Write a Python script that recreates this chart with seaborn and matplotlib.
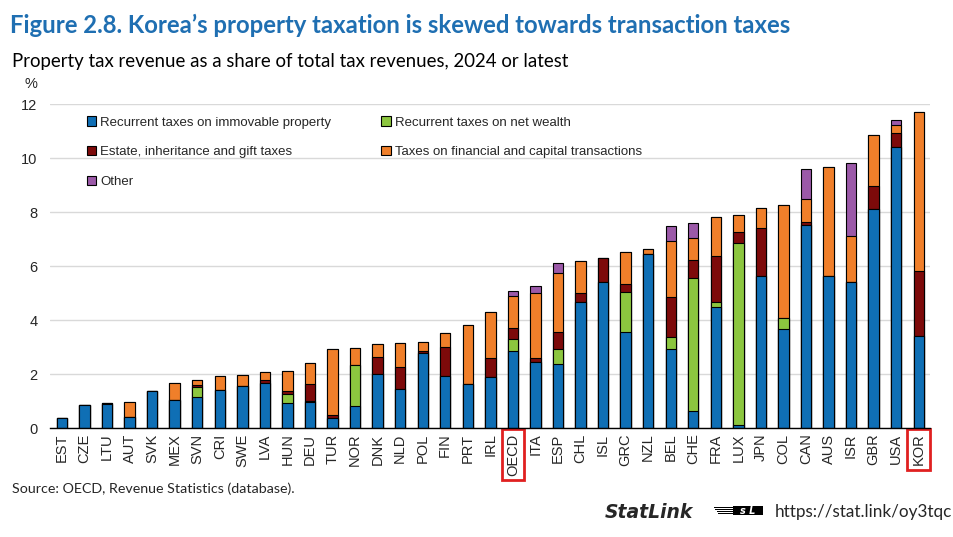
import numpy as np
import pandas as pd
import matplotlib
matplotlib.use("Agg")
import matplotlib.pyplot as plt
from matplotlib.patches import Patch, Rectangle
import seaborn as sns

# Daten (% der gesamten Steuereinnahmen)
countries = ["EST", "CZE", "LTU", "AUT", "SVK", "MEX", "SVN", "CRI", "SWE", "LVA",
             "HUN", "DEU", "TUR", "NOR", "DNK", "NLD", "POL", "FIN", "PRT", "IRL",
             "OECD", "ITA", "ESP", "CHL", "ISL", "GRC", "NZL", "BEL", "CHE", "FRA",
             "LUX", "JPN", "COL", "CAN", "AUS", "ISR", "GBR", "USA", "KOR"]

immovable = [0.38, 0.84, 0.90, 0.41, 1.37, 1.05, 1.15, 1.40, 1.54, 1.67,
             0.94, 0.96, 0.38, 0.83, 1.99, 1.46, 2.79, 1.91, 1.62, 1.89,
             2.85, 2.44, 2.38, 4.68, 5.41, 3.57, 6.46, 2.94, 0.63, 4.47,
             0.12, 5.63, 3.67, 7.53, 5.63, 5.42, 8.12, 10.41, 3.41]

net_wealth = [0, 0, 0, 0, 0, 0, 0.37, 0, 0, 0,
              0.33, 0.05, 0, 1.52, 0, 0, 0, 0, 0, 0,
              0.43, 0, 0.56, 0, 0, 1.47, 0, 0.43, 4.93, 0.18,
              6.73, 0, 0.40, 0, 0, 0, 0, 0, 0]

estate = [0, 0, 0.03, 0, 0, 0, 0.08, 0, 0, 0.10,
          0.09, 0.63, 0.09, 0, 0.64, 0.80, 0.06, 1.09, 0, 0.71,
          0.44, 0.15, 0.63, 0.32, 0.87, 0.28, 0, 1.48, 0.67, 1.71,
          0.40, 1.78, 0, 0.11, 0, 0, 0.83, 0.50, 2.39]

transactions = [0, 0, 0, 0.55, 0, 0.63, 0.19, 0.53, 0.44, 0.30,
                0.76, 0.78, 2.44, 0.63, 0.48, 0.88, 0.35, 0.51, 2.18, 1.70,
                1.18, 2.41, 2.17, 1.19, 0, 1.19, 0.16, 2.08, 0.79, 1.44,
                0.64, 0.73, 4.18, 0.85, 4.02, 1.68, 1.90, 0.30, 5.92]

other = [0, 0, 0, 0, 0, 0, 0, 0, 0, 0,
         0, 0, 0, 0, 0, 0, 0, 0, 0, 0,
         0.16, 0.25, 0.37, 0, 0, 0, 0, 0.54, 0.58, 0,
         0, 0, 0, 1.10, 0, 2.70, 0, 0.20, 0]

highlight = ["OECD", "KOR"]

df = pd.DataFrame({"country": countries, "immovable": immovable, "net_wealth": net_wealth,
                   "estate": estate, "transactions": transactions, "other": other})

# Kumulierte Summen fuer gestapelte Balken
layers = ["immovable", "net_wealth", "estate", "transactions", "other"]
cum = df[layers].cumsum(axis=1)
for col in layers:
    df["cum_" + col] = cum[col]

colors = {"immovable": "#0f6fb5", "net_wealth": "#8cc63f", "estate": "#7d0a0a",
          "transactions": "#f07f2a", "other": "#9b59a8"}
labels = {"immovable": "Recurrent taxes on immovable property",
          "net_wealth": "Recurrent taxes on net wealth",
          "estate": "Estate, inheritance and gift taxes",
          "transactions": "Taxes on financial and capital transactions",
          "other": "Other"}

sns.set_style("white")
plt.rcParams["font.family"] = ["Liberation Sans", "DejaVu Sans"]

fig = plt.figure(figsize=(9.54, 5.37), dpi=100)
ax = fig.add_axes([50 / 954, 109 / 537, 880 / 954, 324 / 537])

# von oben nach unten zeichnen, jede Schicht ueberdeckt die vorige
for col in reversed(layers):
    sns.barplot(data=df, x="country", y="cum_" + col, order=countries, color=colors[col],
                saturation=1, width=0.46, edgecolor="black", linewidth=0.8,
                errorbar=None, ax=ax, zorder=3)

ax.set_xlabel("")
ax.set_ylabel("")
ax.set_xlim(-0.53, len(countries) - 0.51)
ax.set_ylim(0, 12)
ax.set_yticks(range(0, 13, 2))
ax.yaxis.grid(True, color="#d9d9d9", linewidth=1)
ax.xaxis.grid(False)
ax.set_axisbelow(True)
for s in ["left", "right", "top"]:
    ax.spines[s].set_visible(False)
ax.spines["bottom"].set_color("black")
ax.spines["bottom"].set_linewidth(1)
ax.spines["bottom"].set_zorder(5)

ax.tick_params(axis="y", length=0, pad=9, labelsize=10.5)
ax.tick_params(axis="x", which="major", length=0, pad=4, labelsize=10.5, labelrotation=90)
ax.set_xticks(np.arange(-0.5, len(countries), 1), minor=True)
ax.tick_params(axis="x", which="minor", direction="in", length=4, width=1, color="black")

for lab in ax.get_xticklabels():
    if lab.get_text() in highlight:
        lab.set_bbox(dict(facecolor="none", edgecolor="#e02020", linewidth=2, pad=3))

# Legende (Zeilen wie im Original)
order = ["immovable", "estate", "other", "net_wealth", "transactions"]
handles = [Patch(facecolor=colors[k], edgecolor="black", linewidth=0.8, label=labels[k]) for k in order]
ax.legend(handles=handles, ncol=2, frameon=False, loc="upper left",
          bbox_to_anchor=(37 / 880, 0.962), borderaxespad=0, borderpad=0,
          fontsize=9.5, handlelength=0.7, handleheight=0.7, handletextpad=0.3,
          labelspacing=1.32, columnspacing=3.8)

# Texte
fig.text(10 / 954, 1 - 25 / 537, "Figure 2.8. Korea\u2019s property taxation is skewed towards transaction taxes",
         fontsize=17.2, fontweight="bold", color="#1f6fb2", family=["Lato", "DejaVu Sans"], va="center")
fig.text(12 / 954, 1 - 62 / 537, "Property tax revenue as a share of total tax revenues, 2024 or latest",
         fontsize=13.4, color="black", family=["Lato", "DejaVu Sans"], va="center")
fig.text(31 / 954, 1 - 84 / 537, "%", fontsize=10.5, ha="center", va="center")
fig.text(12 / 954, 1 - 489 / 537, "Source: OECD, Revenue Statistics (database).",
         fontsize=10.3, family=["Lato", "DejaVu Sans"], va="center")
fig.text(605 / 954, 1 - 512 / 537, "StatLink", fontsize=13.5, fontweight="bold", style="italic",
         family=["DejaVu Sans"], va="center")
# kleines StatLink-Logo
for i in range(4):
    fig.patches.append(Rectangle(((714 + i * 1.5) / 954, 1 - (507.5 + i * 2) / 537), (20 - i * 1.5) / 954, 1 / 537,
                                 transform=fig.transFigure, facecolor="black", edgecolor="none"))
fig.patches.append(Rectangle((733 / 954, 1 - 514.5 / 537), 30 / 954, 9 / 537,
                             transform=fig.transFigure, facecolor="black", edgecolor="none"))
fig.text(748 / 954, 1 - 510.5 / 537, "s L", fontsize=7, fontweight="bold", style="italic",
         color="white", ha="center", va="center", family=["DejaVu Sans"])
fig.text(775 / 954, 1 - 512 / 537, "https://stat.link/oy3tqc", fontsize=12.3,
         family=["Lato", "DejaVu Sans"], va="center")

fig.savefig("out.png", dpi=100)
